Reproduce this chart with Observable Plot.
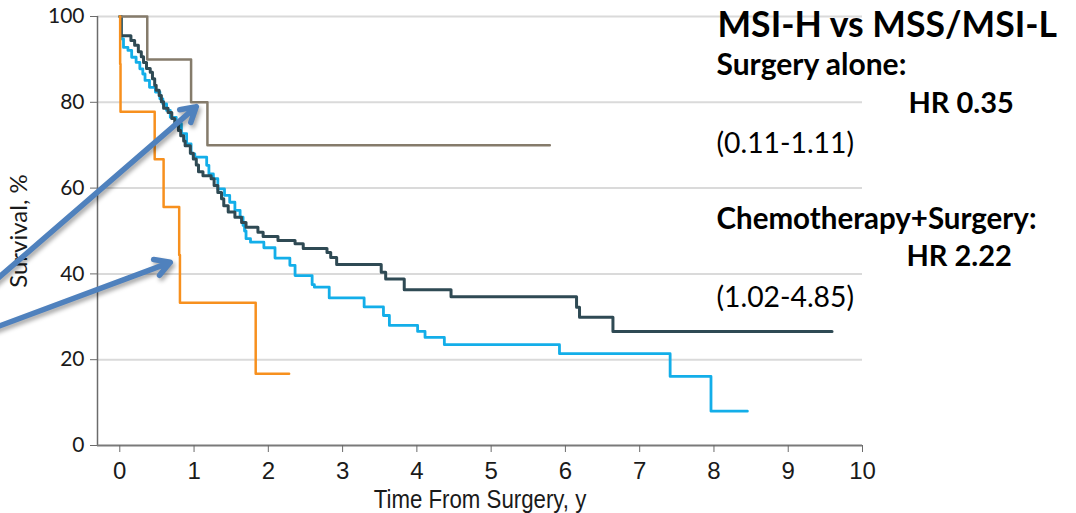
<!DOCTYPE html>
<html>
<head>
<meta charset="utf-8">
<script src="https://cdn.jsdelivr.net/npm/d3@7"></script>
<script src="https://cdn.jsdelivr.net/npm/@observablehq/plot@0.6"></script>
<style>
  html, body { margin: 0; padding: 0; background: #fff; }
  #chart svg { display: block; }
</style>
</head>
<body>
<div id="chart"></div>
<script>
// ---- Data ----
const xDomain = [-0.3, 10];
const yDomain = [0, 100];
const xTicks = [0, 1, 2, 3, 4, 5, 6, 7, 8, 9, 10];
const yTicks = [0, 20, 40, 60, 80, 100];

// Surgery alone, MSI-H (grey-brown)
const surgeryMsiH_time = [0, 0.37, 0.96, 1.18, 5.79];
const surgeryMsiH_surv = [100, 90, 80, 70, 70];

// Chemotherapy + Surgery, MSI-H (orange)
const chemoMsiH_time = [0, 0.005, 0.01, 0.47, 0.59, 0.80, 0.81, 1.83, 2.28];
const chemoMsiH_surv = [100, 88.9, 77.8, 66.7, 55.6, 44.4, 33.3, 16.7, 16.7];

// Surgery alone, MSS/MSI-L (dark slate)
const surgeryMss_time = [0, 0.02, 0.15, 0.20, 0.25, 0.29, 0.32, 0.36, 0.41, 0.44, 0.47, 0.49, 0.53, 0.56, 0.59, 0.65, 0.70, 0.74, 0.79, 0.82, 0.86, 0.88, 0.95, 0.99, 1.03, 1.06, 1.12, 1.23, 1.27, 1.32, 1.37, 1.40, 1.46, 1.55, 1.64, 1.70, 1.86, 1.93, 2.13, 2.36, 2.47, 2.79, 2.84, 2.92, 3.52, 3.58, 3.83, 4.46, 6.15, 6.19, 6.64, 9.59];
const surgeryMss_surv = [100, 95.5, 94.4, 93.3, 91.8, 90.6, 89.3, 87.9, 87.0, 85.5, 84.0, 82.8, 81.6, 80.1, 78.6, 77.6, 76.2, 74.7, 73.4, 72.2, 71.0, 69.9, 68.1, 66.8, 65.4, 63.8, 62.9, 62.2, 60.6, 59.0, 57.5, 55.9, 54.4, 53.2, 52.0, 50.9, 49.7, 48.7, 47.8, 47.0, 45.9, 45.0, 43.8, 42.2, 40.4, 38.8, 36.3, 34.7, 32.2, 29.9, 26.6, 26.6];

// Chemotherapy + Surgery, MSS/MSI-L (light blue)
const chemoMss_time = [0, 0.02, 0.05, 0.11, 0.16, 0.22, 0.27, 0.31, 0.34, 0.40, 0.48, 0.54, 0.58, 0.63, 0.68, 0.76, 0.83, 0.90, 0.96, 1.01, 1.17, 1.20, 1.26, 1.32, 1.41, 1.48, 1.55, 1.62, 1.66, 1.68, 1.70, 1.76, 1.94, 2.09, 2.29, 2.36, 2.59, 2.62, 2.82, 3.29, 3.55, 3.63, 4.01, 4.11, 4.37, 5.92, 7.41, 7.96, 8.45];
const chemoMss_surv = [100, 94.8, 92.8, 92.1, 90.5, 89.3, 87.8, 86.6, 85.1, 83.5, 82.4, 80.8, 79.6, 78.1, 76.5, 75.0, 72.7, 70.3, 68.0, 67.2, 65.3, 63.3, 62.2, 59.8, 58.3, 56.7, 54.8, 53.2, 51.3, 50.0, 48.2, 47.4, 46.1, 43.7, 42.0, 39.6, 37.5, 36.9, 34.4, 32.3, 30.3, 28.0, 26.6, 25.2, 23.5, 21.4, 16.1, 8.0, 8.0];

// Arrows (data coordinates: start -> tip)
const arrowStartT = [-1.74, -1.74];
const arrowStartS = [37.5, 27.1];
const arrowTipT = [1.03, 0.68];
const arrowTipS = [79.0, 42.7];

// Annotation text
const annoText = ["MSI-H vs MSS/MSI-L", "Surgery alone:", "HR 0.35", "(0.11-1.11)", "Chemotherapy+Surgery:", "HR 2.22", "(1.02-4.85)"];

const xLabel = "Time From Surgery, y";
const yLabel = "Survival, %";

// ---- Build tables ----
const toRows = (ts, ss) => ts.map((t, i) => ({t, s: ss[i]}));
const series = [
  {rows: toRows(chemoMss_time, chemoMss_surv), color: "#13aee9", width: 2.8},
  {rows: toRows(surgeryMss_time, surgeryMss_surv), color: "#2f4a54", width: 3},
  {rows: toRows(surgeryMsiH_time, surgeryMsiH_surv), color: "#857b6b", width: 2.5},
  {rows: toRows(chemoMsiH_time, chemoMsiH_surv), color: "#f7901e", width: 2.5}
];
const arrows = arrowStartT.map((_, i) => ({x1: arrowStartT[i], y1: arrowStartS[i], x2: arrowTipT[i], y2: arrowTipS[i]}));

// ---- Annotation styles / layout (relative to frame top-left) ----
const annoStyle = [
  {dx: 620, dy: 9, size: 35.6, weight: "bold"},
  {dx: 619, dy: 49, size: 30, weight: "bold"},
  {dx: 811, dy: 87, size: 29, weight: "bold"},
  {dx: 619, dy: 127, size: 28.3, weight: "normal"},
  {dx: 619, dy: 203, size: 29.5, weight: "bold"},
  {dx: 809, dy: 240, size: 29, weight: "bold"},
  {dx: 619, dy: 281, size: 28.3, weight: "normal"}
];

const mainFont = "Lato, 'Open Sans', sans-serif";
const axisXFont = "'Liberation Sans', Arial, sans-serif";

const chart = Plot.plot({
  width: 1076,
  height: 513,
  marginLeft: 97,
  marginRight: 214,
  marginTop: 16,
  marginBottom: 68,
  x: {domain: xDomain},
  y: {domain: yDomain},
  style: {fontFamily: mainFont, color: "#1a1a1a", background: "#fff", overflow: "visible"},
  marks: [
    Plot.ruleY(yTicks.filter(d => d > yDomain[0]), {stroke: "#dadada", strokeWidth: 2}),
    Plot.ruleX([xDomain[0]], {stroke: "#6b6b6b", strokeWidth: 1.5}),
    Plot.ruleY([yDomain[0]], {stroke: "#7a7a7a", strokeWidth: 2}),
    Plot.axisY(yTicks, {tickSize: 7, tickFormat: () => "", stroke: "#6b6b6b",
      label: yLabel, labelAnchor: "center", labelOffset: 88, labelArrow: "none", fontSize: 24}),
    Plot.axisX(xTicks, {tickSize: 7, tickFormat: () => "", stroke: "#6b6b6b",
      label: xLabel, labelAnchor: "center", labelOffset: 62, labelArrow: "none", fontSize: 25, fontFamily: axisXFont}),
    // tick labels
    Plot.text(yTicks, {y: d => d, text: d => String(d), frameAnchor: "left", dx: -13,
      textAnchor: "end", lineAnchor: "middle", fontSize: 21, fontFamily: mainFont, fill: "#1a1a1a", ariaLabel: "y tick values"}),
    Plot.text(xTicks, {x: d => d, text: d => String(d), frameAnchor: "bottom", dy: 16,
      textAnchor: "middle", lineAnchor: "top", fontSize: 24, fontFamily: axisXFont, fill: "#1a1a1a", ariaLabel: "x tick values"}),
    ...series.map(s => Plot.line(s.rows, {x: "t", y: "s", curve: "step-after", stroke: s.color, strokeWidth: s.width})),
    Plot.arrow(arrows, {x1: "x1", y1: "y1", x2: "x2", y2: "y2", stroke: "#4f81bd", strokeWidth: 5.5, headLength: 4.6, headAngle: 60}),
    ...annoText.map((t, i) => Plot.text([t], {
      text: d => d, frameAnchor: "top-left", dx: annoStyle[i].dx, dy: annoStyle[i].dy,
      textAnchor: "start", lineAnchor: "middle", fontSize: annoStyle[i].size,
      fontWeight: annoStyle[i].weight, fill: "#000"
    }))
  ]
});

chart.querySelectorAll('g[aria-label="arrow"]').forEach(g => {
  g.style.filter = "drop-shadow(2px 3px 2px rgba(0,0,0,0.35))";
});
chart.querySelectorAll('g[aria-label$="axis label"] text').forEach(t => {
  t.textContent = t.textContent.replace(/\s*[→↑←↓]\s*/g, "").trim();
});
document.getElementById("chart").appendChild(chart);

// condensed look for the x axis (as in the reference typeface)
function condense(selector, factor) {
  chart.querySelectorAll(selector).forEach(t => {
    const w = t.getComputedTextLength();
    if (w > 0) {
      t.setAttribute("textLength", w * factor);
      t.setAttribute("lengthAdjust", "spacingAndGlyphs");
    }
  });
}
condense('g[aria-label="x tick values"] text', 0.8);
condense('g[aria-label="x-axis label"] text', 0.89);
</script>
</body>
</html>
